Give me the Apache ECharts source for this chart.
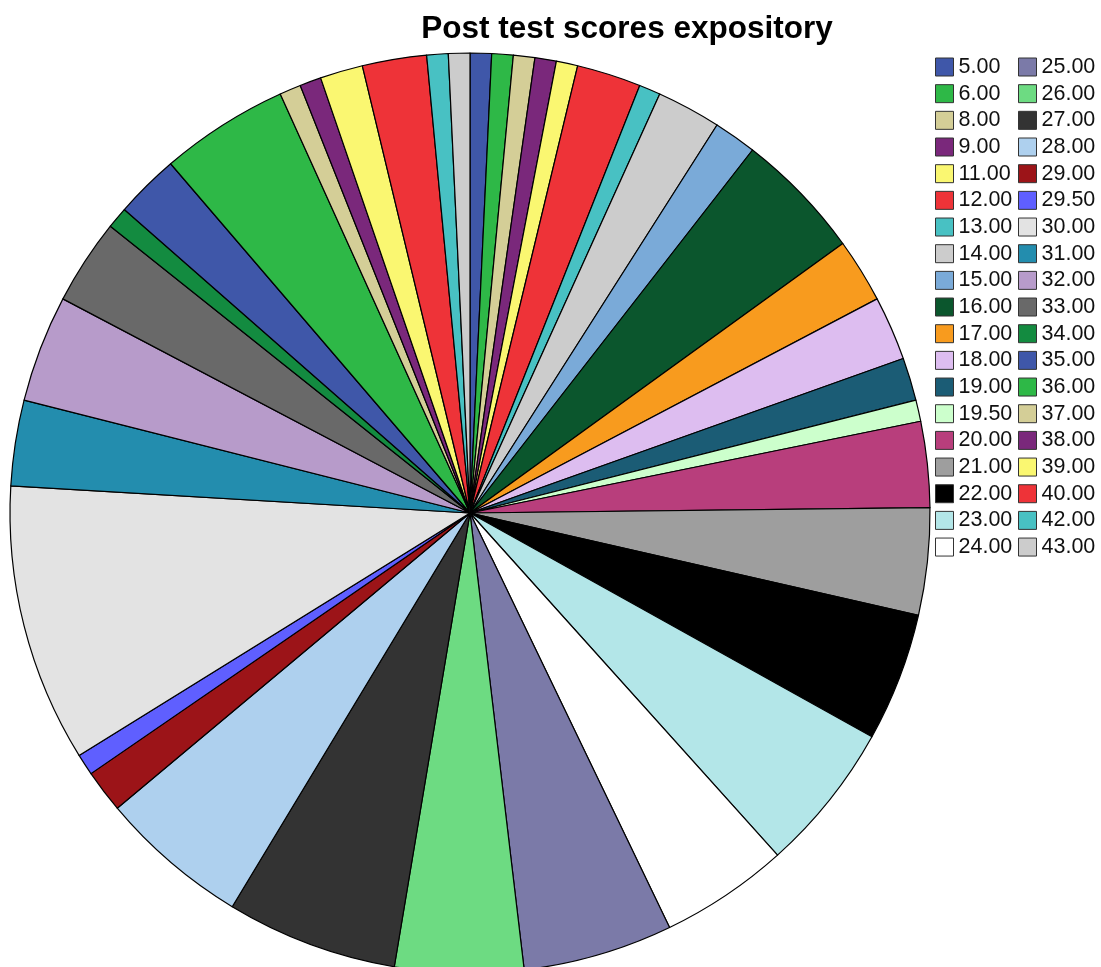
<!DOCTYPE html>
<html>
<head>
<meta charset="utf-8">
<title>Post test scores expository</title>
<script src="https://cdn.jsdelivr.net/npm/echarts@6/dist/echarts.min.js"></script>
<style>
  html, body { margin: 0; padding: 0; background: #ffffff; }
  #chart { width: 1101px; height: 967px; }
</style>
</head>
<body>
<div id="chart"></div>
<script>
// Score categories (legend labels) and the number of students at each score
const scoreLabels = [
  '5.00', '6.00', '8.00', '9.00', '11.00', '12.00', '13.00', '14.00', '15.00', '16.00',
  '17.00', '18.00', '19.00', '19.50', '20.00', '21.00', '22.00', '23.00', '24.00', '25.00',
  '26.00', '27.00', '28.00', '29.00', '29.50', '30.00', '31.00', '32.00', '33.00', '34.00',
  '35.00', '36.00', '37.00', '38.00', '39.00', '40.00', '42.00', '43.00'
];
const scoreCounts = [
  1, 1, 1, 1, 1, 3, 1, 3, 2, 6,
  3, 3, 2, 1, 4, 5, 6, 7, 6, 7,
  6, 8, 7, 2, 1, 13, 4, 5, 4, 1,
  3, 6, 1, 1, 2, 3, 1, 1
];
const sliceColors = [
  '#3F57A9', '#2EB847', '#D4CE97', '#7A287B', '#FAF771', '#EE3338', '#48C1C3', '#CCCCCC', '#7AAAD8', '#0B562D',
  '#F89B1E', '#DDBDF0', '#1B5C75', '#CCFFCC', '#B83E7C', '#9E9E9E', '#000000', '#B3E6E8', '#FFFFFF', '#7B7AA8',
  '#6DDB82', '#333333', '#AED0EE', '#9C1418', '#5F5FFF', '#E3E3E3', '#238DAE', '#B79BCA', '#696969', '#138B40',
  '#3F57A9', '#2EB847', '#D4CE97', '#7A287B', '#FAF771', '#EE3338', '#48C1C3', '#CCCCCC'
];

const FONT = '"Liberation Sans", Arial, Helvetica, sans-serif';
const half = Math.ceil(scoreLabels.length / 2);

const pieData = scoreLabels.map((name, i) => ({
  name: name,
  value: scoreCounts[i],
  itemStyle: { color: sliceColors[i] }
}));

// One legend column of score swatches
function legendColumn(names, left) {
  return {
    show: true,
    orient: 'vertical',
    left: left,
    top: 56,
    padding: 0,
    itemWidth: 18,
    itemHeight: 18,
    itemGap: 4.67,
    icon: 'rect',
    selectedMode: false,
    itemStyle: { borderColor: '#333333', borderWidth: 1 },
    textStyle: { fontFamily: FONT, fontSize: 21.5, color: '#111111', padding: 0 },
    data: names
  };
}

const chart = echarts.init(document.getElementById('chart'), null, { renderer: 'canvas' });
chart.setOption({
  animation: false,
  backgroundColor: '#ffffff',
  title: {
    text: 'Post test scores expository',
    left: 622,
    textAlign: 'center',
    top: 8,
    textStyle: { fontFamily: FONT, fontSize: 31.5, fontWeight: 'bold', color: '#000000' }
  },
  legend: [
    legendColumn(scoreLabels.slice(0, half), 935),
    legendColumn(scoreLabels.slice(half), 1018)
  ],
  series: [{
    type: 'pie',
    center: [470, 513],
    radius: [0, 460],
    startAngle: 90,
    clockwise: true,
    avoidLabelOverlap: false,
    label: { show: false },
    labelLine: { show: false },
    emphasis: { disabled: true },
    itemStyle: { borderColor: '#000000', borderWidth: 1.2 },
    data: pieData
  }]
});
</script>
</body>
</html>
